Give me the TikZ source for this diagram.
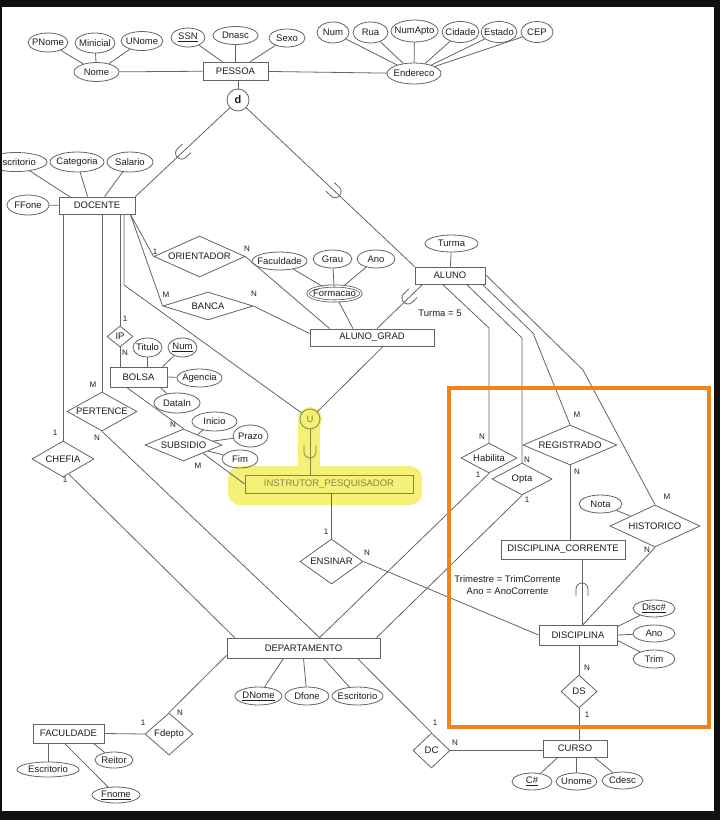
\documentclass[tikz,border=0pt]{standalone}
\usepackage{fontspec}
\setmainfont{Liberation Sans}
\usetikzlibrary{shapes.geometric,calc}
\definecolor{linec}{RGB}{100,100,100}
\definecolor{txtc}{RGB}{30,30,30}
\definecolor{orng}{RGB}{242,130,28}
\definecolor{hly}{RGB}{244,241,120}
\definecolor{hlc}{RGB}{135,132,70}
\definecolor{frame}{RGB}{17,17,17}
\tikzset{
  every node/.style={font=\fontsize{9.5}{11}\selectfont, text=txtc},
  conn/.style={draw=linec, line width=0.8pt},
  ent/.style 2 args={rectangle, draw=linec, line width=0.8pt, minimum width=#1pt, minimum height=#2pt, inner sep=0pt},
  attr/.style n args={3}{ellipse, draw=linec, line width=0.8pt, minimum width=#1pt, minimum height=#2pt, inner sep=0pt, label={center:#3}},
  rel/.style n args={3}{diamond, draw=linec, line width=0.8pt, minimum width=#1pt, minimum height=#2pt, inner sep=0pt, aspect=#3},
  card/.style={font=\fontsize{8}{9}\selectfont, inner sep=0pt},
  cupst/.style={draw=linec, line width=0.8pt},
}
\newcommand\subcup[2]{\draw[cupst, shift={#1}, rotate=#2] (-6pt,7pt) -- (-6pt,0pt) arc[start angle=180, end angle=360, radius=6pt] -- (6pt,7pt);}
\begin{document}
\begin{tikzpicture}[x=1pt,y=-1pt]
\useasboundingbox (0,0) rectangle (720,820);
\fill[frame] (0,0) rectangle (720,820);
\fill[white] (2,7) rectangle (714,811);
\begin{scope}
\clip (2,7) rectangle (714,811);
% highlight
\fill[hly, rounded corners=12pt] (228,466) rectangle (422,505);
\fill[hly, rounded corners=6pt] (298,414) rectangle (320,472);
\fill[hly] (310,419) circle (12pt);

% ---- entities
\node[ent={65}{18}] (pessoa) at (235.5,71) {PESSOA};
\node[ent={76}{17}] (docente) at (97,205.5) {DOCENTE};
\node[ent={70}{17}] (aluno) at (450,275.5) {ALUNO};
\node[ent={124}{17}] (alunograd) at (372,337.5) {ALUNO\_GRAD};
\node[ent={57}{20}] (bolsa) at (138.5,377) {BOLSA};
\node[ent={168}{18}, draw=hlc, text=hlc] (instr) at (329,484) {INSTRUTOR\_PESQUISADOR};
\node[ent={124}{19}] (disccorr) at (563,549.5) {DISCIPLINA\_CORRENTE};
\node[ent={78}{20}] (disc) at (578,635) {DISCIPLINA};
\node[ent={153}{20}] (depto) at (303.5,648) {DEPARTAMENTO};
\node[ent={71}{19}] (facul) at (68.5,733.5) {FACULDADE};
\node[ent={64}{17}] (curso) at (575,748.5) {CURSO};

% ---- circles
\node[circle, draw=linec, line width=0.8pt, minimum size=22pt, inner sep=0pt, font=\bfseries\fontsize{11}{12}\selectfont] (d) at (238,100) {d};
\node[circle, draw=hlc, line width=0.8pt, minimum size=20pt, inner sep=0pt, text=hlc] (u) at (310,419) {U};

% ---- attributes
\node[attr={40}{19}{PNome}] (pnome) at (48,42.5) {};
\node[attr={40}{20}{Minicial}] (minicial) at (95,43) {};
\node[attr={42}{19}{UNome}] (unome) at (142,41) {};
\node[attr={34}{19}{\underline{SSN}}] (ssn) at (188,37.5) {};
\node[attr={45}{18}{Dnasc}] (dnasc) at (235.5,35.5) {};
\node[attr={36}{18}{Sexo}] (sexo) at (287,38) {};
\node[attr={45}{19}{Nome}] (nome) at (96.5,72) {};
\node[attr={32}{21}{Num}] (num) at (333,32.5) {};
\node[attr={35}{21}{Rua}] (rua) at (370.5,32.5) {};
\node[attr={47}{22}{NumApto}] (numapto) at (414.5,31) {};
\node[attr={37}{21}{Cidade}] (cidade) at (460.5,32) {};
\node[attr={36}{21}{Estado}] (estado) at (499,32) {};
\node[attr={32}{21}{CEP}] (cep) at (537,32) {};
\node[attr={54}{21}{Endereco}] (ender) at (414,73.5) {};
\node[attr={62}{19}{Escritorio}] (escrit1) at (16,162) {};
\node[attr={54}{20}{Categoria}] (categ) at (77,162) {};
\node[attr={46}{20}{Salario}] (salario) at (130,162) {};
\node[attr={42}{20}{FFone}] (ffone) at (28,205) {};
\node[attr={53}{17}{Turma}] (turma) at (451.5,243.5) {};
\node[attr={55}{18}{Faculdade}] (facdade) at (279.5,261) {};
\node[attr={39}{18}{Grau}] (grau) at (332.5,259) {};
\node[attr={38}{18}{Ano}] (anof) at (376,259) {};
\node[attr={53}{15}{Formacao}, double, double distance=1.4pt] (formacao) at (334.5,293.5) {};
\node[attr={29}{19}{Titulo}] (titulo) at (147.5,347.5) {};
\node[attr={29}{19}{\underline{Num}}] (numb) at (182.5,347.5) {};
\node[attr={45}{18}{Agencia}] (agencia) at (199.5,378) {};
\node[attr={46}{20}{DataIn}] (datain) at (177,403) {};
\node[attr={45}{19}{Inicio}] (inicio) at (214.5,421.5) {};
\node[attr={35}{22}{Prazo}] (prazo) at (250.5,436) {};
\node[attr={36}{18}{Fim}] (fim) at (240,459) {};
\node[attr={43}{18}{Nota}] (nota) at (600.5,504) {};
\node[attr={42}{17}{\underline{Disc\#}}] (disc1) at (654,608.5) {};
\node[attr={42}{17}{Ano}] (discano) at (654,633.5) {};
\node[attr={42}{18}{Trim}] (trim) at (654,659) {};
\node[attr={47}{18}{\underline{DNome}}] (dnome) at (258.5,696) {};
\node[attr={44}{18}{Dfone}] (dfone) at (307,696) {};
\node[attr={51}{18}{Escritorio}] (escrit2) at (357.5,696) {};
\node[attr={40}{17}{\underline{C\#}}] (cnum) at (532,781.5) {};
\node[attr={41}{17}{Unome}] (unome2) at (576.5,781.5) {};
\node[attr={41}{17}{Cdesc}] (cdesc) at (622.5,780.5) {};
\node[attr={62}{15}{Escritorio}] (escrit3) at (48,769.5) {};
\node[attr={38}{16}{Reitor}] (reitor) at (114,760) {};
\node[attr={48}{16}{\underline{Fnome}}] (fnome) at (116,795) {};

% ---- relationships
\node[rel={91}{41}{2.22}] (orient) at (199.5,256.5) {ORIENTADOR};
\node[rel={90}{28}{3.2}] (banca) at (208,306) {BANCA};
\node[rel={26}{21}{1.24}] (ip) at (120,336.5) {IP};
\node[rel={70}{39}{1.8}] (pertence) at (102,411.5) {PERTENCE};
\node[rel={62}{36}{1.72}] (chefia) at (63,459) {CHEFIA};
\node[rel={77}{32}{2.4}] (subs) at (183.5,445) {SUBSIDIO};
\node[rel={63}{45}{1.4}] (ensinar) at (331.5,561.5) {ENSINAR};
\node[rel={56}{30}{1.87}] (habilita) at (489,458) {Habilita};
\node[rel={60}{32}{1.875}] (opta) at (522,479) {Opta};
\node[rel={94}{40}{2.35}] (regis) at (570,445) {REGISTRADO};
\node[rel={90}{42}{2.14}] (hist) at (655,526) {HISTORICO};
\node[rel={36}{33}{1.09}] (ds) at (579,691.5) {DS};
\node[rel={37}{35}{1.06}] (dc) at (431.5,750.5) {DC};
\node[rel={48}{42}{1.14}] (fdepto) at (169,734) {Fdepto};

% ---- free texts
\node (t5) at (440,313) {Turma = 5};
\node[align=center, font=\fontsize{9.5}{12}\selectfont] (trimtxt) at (507.5,585) {Trimestre = TrimCorrente\\Ano = AnoCorrente};

% ---- connectors: PESSOA
\draw[conn] (pnome) -- (nome);
\draw[conn] (minicial) -- (nome);
\draw[conn] (unome) -- (nome);
\draw[conn] (nome) -- (pessoa);
\draw[conn] (ssn) -- (pessoa);
\draw[conn] (dnasc) -- (pessoa);
\draw[conn] (sexo) -- (pessoa);
\draw[conn] (pessoa) -- (ender);
\foreach \a in {num,rua,numapto,cidade,estado,cep} \draw[conn] (\a) -- (ender);
\draw[conn] (d) -- (d |- pessoa.south);
\draw[conn] (d) -- (docente.north east);
\draw[conn] (d) -- (aluno.north west);
% DOCENTE
\draw[conn] (escrit1) -- ($(docente.north west)+(11,0)$);
\draw[conn] (categ) -- ($(docente.north west)+(29,0)$);
\draw[conn] (salario) -- ($(docente.north west)+(46,0)$);
\draw[conn] (ffone) -- (docente);
\draw[conn] (chefia.north) -- (chefia.north |- docente.south);
\draw[conn] (pertence.north) -- (pertence.north |- docente.south);
\draw[conn] (ip.north) -- (ip.north |- docente.south);
\coordinate (du) at (124,285);
\draw[conn] (du |- docente.south) -- (du) -- (u);
\draw[conn] ($(docente.south east)+(-5,0)$) -- (orient.west);
\draw[conn] ($(docente.south east)+(-5,0)$) -- (banca.west);
\draw[conn] (orient.east) -- ($(alunograd.north west)+(20,0)$);
\draw[conn] (banca.east) -- ($(alunograd.west)+(0,-4)$);
% ALUNO_GRAD
\draw[conn] (facdade) -- (formacao);
\draw[conn] (grau) -- (formacao);
\draw[conn] (anof) -- (formacao);
\draw[conn] (formacao) -- ($(alunograd.north)+(-19,0)$);
\draw[conn] (turma) -- (aluno);
\draw[conn] ($(aluno.south west)+(8,0)$) -- ($(alunograd.north)+(5,0)$);
\draw[conn] ($(alunograd.south)+(11,0)$) -- (u);
\draw[conn, draw=hlc] (u) -- (u |- instr.north);
% BOLSA / SUBSIDIO
\draw[conn] (ip.south) -- (ip.south |- bolsa.north);
\draw[conn] (titulo) -- (titulo |- bolsa.north);
\draw[conn] (numb) -- ($(bolsa.north west)+(53,0)$);
\draw[conn] (agencia) -- (bolsa.east);
\draw[conn] (datain) -- ($(bolsa.south east)+(-7,0)$);
\draw[conn] ($(bolsa.south west)+(17,0)$) -- (subs.north);
\draw[conn] (inicio) -- (subs);
\draw[conn] (prazo) -- (subs);
\draw[conn] (fim) -- (subs);
\draw[conn] (subs.south east) -- (instr.west);
% ENSINAR
\draw[conn] (ensinar.north) -- (ensinar.north |- instr.south);
\draw[conn] (ensinar.east) -- (disc.west);
% DEPARTAMENTO
\draw[conn] ($(chefia.south)+(6,-3)$) -- ($(depto.north west)+(8,0)$);
\draw[conn] (pertence.south) -- ($(depto.north west)+(93,0)$);
\draw[conn] (habilita.south) -- ($(depto.north west)+(93,0)$);
\draw[conn] (opta.south) -- ($(depto.north west)+(150,0)$);
\draw[conn] (dnome) -- ($(depto.south)+(-20,0)$);
\draw[conn] (dfone) -- (depto.south);
\draw[conn] (escrit2) -- ($(depto.south)+(20,0)$);
\draw[conn] ($(depto.south)+(54,0)$) -- (dc.north);
\draw[conn] (fdepto.north) -- ($(depto.south west)+(0,-3)$);
% FACULDADE
\draw[conn] (facul.east) -- (fdepto.west);
\draw[conn] (escrit3) -- (escrit3 |- facul.south);
\draw[conn] (reitor) -- ($(facul.south east)+(-11,0)$);
\draw[conn] (fnome) -- ($(facul.south west)+(32,0)$);
% CURSO
\draw[conn] (dc.east) -- (dc.east -| curso.west);
\draw[conn] (cnum) -- ($(curso.south west)+(15,0)$);
\draw[conn] (unome2) -- (unome2 |- curso.south);
\draw[conn] (cdesc) -- ($(curso.south east)+(-13,0)$);
% ALUNO relationships
\coordinate (hb) at (489,328);
\coordinate (op) at (522,338);
\coordinate (rg) at (533,333);
\coordinate (hs) at (583,370);
\draw[conn] ($(aluno.south west)+(28,0)$) -- (hb) -- (habilita.north);
\draw[conn] ($(aluno.south west)+(52,0)$) -- (op) -- (opta.north);
\draw[conn] ($(aluno.south east)+(-3,0)$) -- (rg) -- (regis.north);
\draw[conn] ($(aluno.east)+(0,-1)$) -- (hs) -- (hist.north);
\draw[conn] (regis.south) -- (regis.south |- disccorr.north);
\draw[conn] (nota) -- (hist);
\draw[conn] (hist.south) -- ($(disc.north)+(5,0)$);
\coordinate (dcx) at ($(disc.north)+(4,0)$);
\draw[conn] (dcx |- disccorr.south) -- (dcx);
\draw[conn] (disc1) -- ($(disc.north east)+(0,2)$);
\draw[conn] (discano) -- (disc.east);
\draw[conn] (trim) -- ($(disc.south east)+(0,-5)$);
\draw[conn] (ds.north) -- (ds.north |- disc.south);
\draw[conn] (ds.south) -- (ds.south |- curso.north);

% ---- subset cups
\subcup{($(docente.north east)!0.45!(d)$)}{-47}
\subcup{($(d)!0.55!(aluno.north west)$)}{47}
\subcup{(408,298)}{-46}
\begin{scope}[cupst/.style={draw=hlc, line width=0.8pt}]
\subcup{(310,452)}{0}
\end{scope}
\subcup{(582,589)}{180}

% ---- cardinalities
\node[card] (c1) at (155,252) {1};
\node[card] (c2) at (247,249) {N};
\node[card] (c3) at (166,295) {M};
\node[card] (c4) at (254,294) {N};
\node[card] (c5) at (125,319) {1};
\node[card] (c6) at (125,353) {N};
\node[card] (c7) at (93,385) {M};
\node[card] (c8) at (97,438) {N};
\node[card] (c9) at (55,433) {1};
\node[card] (c10) at (65,480) {1};
\node[card] (c11) at (173,425) {N};
\node[card] (c12) at (198,466) {M};
\node[card] (c13) at (326,532) {1};
\node[card] (c14) at (367,553) {N};
\node[card] (c15) at (482,437) {N};
\node[card] (c16) at (478,475) {1};
\node[card] (c17) at (527,460) {N};
\node[card] (c18) at (527,500) {1};
\node[card] (c19) at (577,415) {M};
\node[card] (c20) at (577,472) {N};
\node[card] (c21) at (667,497) {M};
\node[card] (c22) at (647,550) {N};
\node[card] (c23) at (587,668) {N};
\node[card] (c24) at (587,715) {1};
\node[card] (c25) at (435,723) {1};
\node[card] (c26) at (455,743) {N};
\node[card] (c27) at (143,723) {1};
\node[card] (c28) at (180,713) {N};

% ---- orange frame
\draw[orng, line width=3.5pt] (449,388) rectangle (709,727);
\end{scope}
\end{tikzpicture}
\end{document}
